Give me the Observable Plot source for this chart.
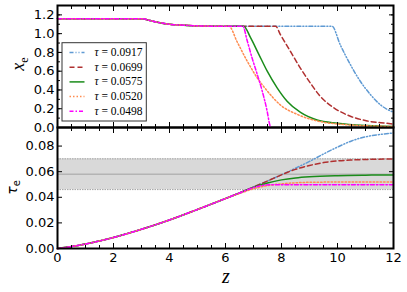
<!DOCTYPE html>
<html><head><meta charset="utf-8">
<script src="https://cdn.jsdelivr.net/npm/d3@7"></script>
<script src="https://cdn.jsdelivr.net/npm/@observablehq/plot@0.6"></script>
<style>
body{margin:0;background:#fff;}
#wrap{position:relative;width:407px;height:292px;overflow:hidden;background:#fff;}
#wrap svg{position:absolute;left:0;}
#wrap text.serif{font-family:"Liberation Serif","DejaVu Serif",serif;}
</style></head><body><div id="wrap"></div><script>
// ---- data ----
const tauLabels = ["0.0917", "0.0699", "0.0575", "0.0520", "0.0498"];
const colors = ["#5f9ad3", "#b03030", "#1a8c1a", "#ff8c50", "#ff00ff"];
const dashes = ["4,2,1,2,1,2", "5,3", null, "1.5,2", "4,2,1.5,2"];

const commonXeZ = [0, 3.0, 3.3, 3.6, 4.0, 4.5, 5.0, 5.5];
const commonXeV = [1.16, 1.16, 1.14, 1.12, 1.10, 1.09, 1.083, 1.08];
const xeZ = [
  [9.8, 10.1, 10.46, 10.82, 11.18, 11.54, 11.95, 12],
  [7.79, 7.96, 8.32, 8.68, 9.04, 9.39, 9.87, 10.46, 11.06, 11.89, 12],
  [6.65, 6.89, 7.19, 7.49, 7.85, 8.2, 8.68, 9.27, 9.99, 11.06, 12],
  [6.12, 6.42, 6.77, 7.13, 7.49, 7.96, 8.56, 9.27, 10.1, 12],
  [6.62, 6.77, 6.95, 7.13, 7.31, 7.49, 7.58, 7.62]
];
const xeV = [
  [1.08, 0.88, 0.67, 0.49, 0.35, 0.24, 0.17, 0.165],
  [1.08, 0.99, 0.81, 0.63, 0.47, 0.33, 0.21, 0.12, 0.07, 0.04, 0.035],
  [1.08, 0.96, 0.78, 0.60, 0.42, 0.28, 0.16, 0.08, 0.045, 0.02, 0.01],
  [1.08, 0.91, 0.71, 0.53, 0.39, 0.24, 0.14, 0.07, 0.035, 0.01],
  [1.08, 0.93, 0.74, 0.57, 0.39, 0.17, 0.03, 0.0]
];

const commonTauZ = [0, 0.5, 1, 2, 3, 4, 5, 6];
const commonTauV = [0, 0.0015, 0.0035, 0.0086, 0.0150, 0.0223, 0.0305, 0.0390];
const tauZ = [
  [6.5, 7, 7.5, 8, 8.5, 9, 9.5, 10, 10.5, 11, 11.5, 12],
  [6.5, 7, 7.5, 7.8, 8.2, 8.5, 9, 9.5, 10, 10.5, 11, 12],
  [6.5, 7, 7.5, 8, 8.5, 9, 10, 11, 12],
  [6.5, 7, 7.5, 8, 8.5, 9, 10, 12],
  [6.5, 7, 7.3, 7.6, 8, 12]
];
const tauV = [
  [0.0434, 0.0480, 0.0527, 0.0576, 0.0627, 0.0680, 0.0738, 0.0792, 0.0840, 0.0872, 0.0890, 0.0902],
  [0.0434, 0.0480, 0.0527, 0.0556, 0.0594, 0.0618, 0.0648, 0.0671, 0.0684, 0.0691, 0.0695, 0.0699],
  [0.0434, 0.0478, 0.0512, 0.0536, 0.0551, 0.0560, 0.0569, 0.0573, 0.0575],
  [0.0430, 0.0466, 0.0491, 0.0505, 0.0513, 0.0517, 0.0519, 0.0520],
  [0.0434, 0.0476, 0.0492, 0.0497, 0.0498, 0.0498]
];

const bandLow = 0.046, bandMid = 0.058, bandHigh = 0.070;

const xTicks = [0, 2, 4, 6, 8, 10, 12];
const xMinor = [0,0.5,1,1.5,2,2.5,3,3.5,4,4.5,5,5.5,6,6.5,7,7.5,8,8.5,9,9.5,10,10.5,11,11.5,12];
const topYTicks = [0, 0.2, 0.4, 0.6, 0.8, 1.0, 1.2];
const topYMinor = [0,0.1,0.2,0.3,0.4,0.5,0.6,0.7,0.8,0.9,1.0,1.1,1.2,1.3];
const botYTicks = [0, 0.02, 0.04, 0.06, 0.08];

// ---- build tables ----
function series(cz, cv, zs, vs) {
  return tauLabels.map((t, i) =>
    cz.map((z, j) => ({z, v: cv[j]})).concat(zs[i].map((z, j) => ({z, v: vs[i][j]}))));
}
const xeData = series(commonXeZ, commonXeV, xeZ, xeV);
const tauData = series(commonTauZ, commonTauV, tauZ, tauV);

const empty = () => "";
function tickMarks(xt, xm, yt, ym, showXLabels, yFmt) {
  const m = [];
  for (const anchor of ["bottom", "top"]) {
    m.push(Plot.axisX(xt, {anchor, tickSize: -5, tickFormat: empty, label: null, strokeWidth: 1}));
    m.push(Plot.axisX(xm, {anchor, tickSize: -3, tickFormat: empty, label: null, strokeWidth: 1}));
  }
  for (const anchor of ["left", "right"]) {
    m.push(Plot.axisY(yt, {anchor, tickSize: -5, tickFormat: empty, label: null, strokeWidth: 1}));
    if (ym) m.push(Plot.axisY(ym, {anchor, tickSize: -3, tickFormat: empty, label: null, strokeWidth: 1}));
  }
  m.push(Plot.axisY(yt, {anchor: "left", tickSize: 0, tickPadding: 3, tickFormat: yFmt, label: null, fontSize: 13}));
  if (showXLabels) m.push(Plot.axisX(xt, {anchor: "bottom", tickSize: 0, tickPadding: 4, tickFormat: d3.format("d"), label: null, fontSize: 13}));
  return m;
}
function lineMarks(data) {
  return data.map((d, i) => Plot.line(d, {
    x: "z", y: "v", stroke: colors[i], strokeWidth: 1.5,
    strokeDasharray: dashes[i] || undefined, curve: "monotone-x"
  }));
}

const common = {
  width: 407, marginLeft: 57, marginRight: 14,
  x: {domain: [0, 12]},
  style: {fontFamily: "DejaVu Sans", fontSize: "13px", color: "black", background: "transparent", overflow: "visible"}
};

const topPlot = Plot.plot({
  ...common,
  height: 130, marginTop: 5, marginBottom: 3,
  y: {domain: [0, 1.3]},
  marks: [
    ...lineMarks(xeData),
    ...tickMarks(xTicks, xMinor, topYTicks, topYMinor, false, d3.format(".1f")),
    Plot.frame({stroke: "black", strokeWidth: 2})
  ]
});

const bottomPlot = Plot.plot({
  ...common,
  height: 168, marginTop: 3, marginBottom: 44,
  y: {domain: [0, 0.0945]},
  marks: [
    Plot.rect([{lo: bandLow, hi: bandHigh}], {y1: "lo", y2: "hi", fill: "#d9d9d9"}),
    Plot.ruleY([bandLow, bandHigh], {stroke: "#a0a0a0", strokeWidth: 1, strokeDasharray: "1.5,1"}),
    Plot.ruleY([bandMid], {stroke: "#b4b4b4", strokeWidth: 1.5}),
    ...lineMarks(tauData),
    ...tickMarks(xTicks, xMinor, botYTicks, null, true, d3.format(".2f")),
    Plot.frame({stroke: "black", strokeWidth: 2})
  ]
});

const wrap = document.getElementById("wrap");
topPlot.style.top = "0px";
bottomPlot.style.top = "124px";
wrap.appendChild(bottomPlot);
wrap.appendChild(topPlot);

// axis labels
const st = d3.select(topPlot);
const ylab = st.append("text").attr("class", "serif")
  .attr("transform", "translate(24,64) rotate(-90)")
  .attr("text-anchor", "middle")
  .style("font-size", "18px").style("font-style", "italic");
ylab.append("tspan").text("x");
ylab.append("tspan").attr("dy", 4).style("font-style", "normal").style("font-size", "12px").text("e");

const sb = d3.select(bottomPlot);
const tlab = sb.append("text")
  .attr("transform", "translate(17,63.5) rotate(-90)")
  .attr("text-anchor", "middle")
  .style("font-family", "DejaVu Sans").style("font-size", "14px").style("font-style", "italic");
tlab.append("tspan").text("τ");
tlab.append("tspan").attr("dy", 3).style("font-style", "normal").style("font-size", "10px").text("e");

sb.append("text").attr("class", "serif")
  .attr("x", 226).attr("y", 159)
  .attr("text-anchor", "middle")
  .style("font-size", "20px").style("font-style", "italic")
  .text("z");

// legend
const lg = st.append("g");
lg.append("rect").attr("x", 62).attr("y", 42.7).attr("width", 84.3).attr("height", 78.3)
  .attr("fill", "white").attr("stroke", "#333").attr("stroke-width", 1);
tauLabels.forEach((t, i) => {
  const y = 52.5 + i * 14.7;
  lg.append("line").attr("x1", 69.5).attr("x2", 84.5).attr("y1", y).attr("y2", y)
    .attr("stroke", colors[i]).attr("stroke-width", 1.5)
    .attr("stroke-dasharray", dashes[i]);
  const tx = lg.append("text").attr("class", "serif").attr("x", 94.5).attr("y", y + 3.5)
    .attr("text-anchor", "start")
    .style("font-size", "11.5px");
  tx.append("tspan").style("font-style", "italic").text("τ");
  tx.append("tspan").text(" = " + t);
});
</script></body></html>
